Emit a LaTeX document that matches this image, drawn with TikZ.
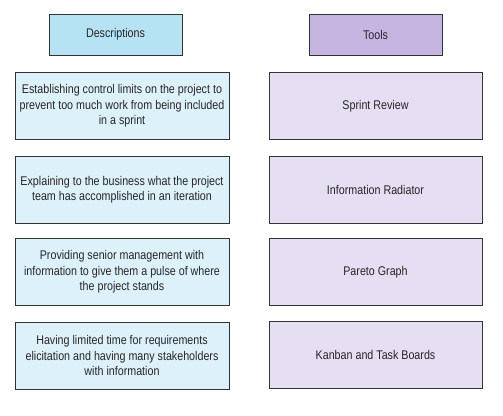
\documentclass[tikz,border=0pt]{standalone}
\usepackage{fontspec}
\setmainfont[FakeStretch=0.85]{Liberation Sans}
\begin{document}
\begin{tikzpicture}[x=1pt,y=-1pt,
  box/.style={draw=black!80,line width=0.8pt,align=center,font=\fontsize{12.6}{15.5}\selectfont,text=black!85,inner sep=0pt}]
\definecolor{lh}{HTML}{B5E3F4}
\definecolor{rh}{HTML}{C6B5E0}
\definecolor{lb}{HTML}{DDF1FA}
\definecolor{rb}{HTML}{E6DEF2}
\useasboundingbox (0,0) rectangle (503,415);
\fill[white] (0,0) rectangle (503,415);
\node[box,fill=lh,minimum width=133pt,minimum height=41pt] (dh) at (115.5,34.5) {Descriptions};
\node[box,fill=rh,minimum width=133pt,minimum height=41pt] (th) at (375.5,34.5) {Tools};
\node[box,fill=lb,minimum width=214pt,minimum height=67pt] (d1) at (122,106) {Establishing control limits on the project to\\prevent too much work from being included\\in a sprint};
\node[box,fill=lb,minimum width=214pt,minimum height=67pt] (d2) at (122,189.5) {Explaining to the business what the project\\team has accomplished in an iteration};
\node[box,fill=lb,minimum width=214pt,minimum height=67pt] (d3) at (122,272) {Providing senior management with\\information to give them a pulse of where\\the project stands};
\node[box,fill=lb,minimum width=214pt,minimum height=67pt] (d4) at (122,355.5) {Having limited time for requirements\\elicitation and having many stakeholders\\with information};
\node[box,fill=rb,minimum width=213pt,minimum height=67pt] (t1) at (375.5,106) {Sprint Review};
\node[box,fill=rb,minimum width=213pt,minimum height=67pt] (t2) at (375.5,189.5) {Information Radiator};
\node[box,fill=rb,minimum width=213pt,minimum height=67pt] (t3) at (375.5,272) {Pareto Graph};
\node[box,fill=rb,minimum width=213pt,minimum height=67pt] (t4) at (375.5,355) {Kanban and Task Boards};
\end{tikzpicture}
\end{document}
